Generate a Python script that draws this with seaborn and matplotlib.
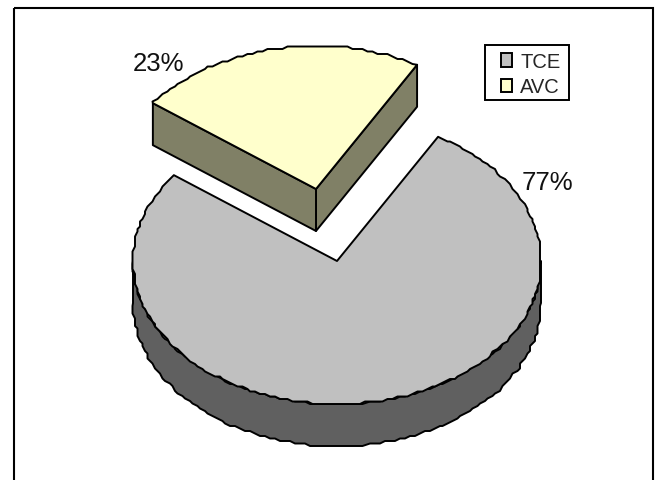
import numpy as np
import seaborn as sns
import matplotlib
matplotlib.use("Agg")
import matplotlib.pyplot as plt
from matplotlib.patches import Patch, Rectangle, Polygon

# Share of each compound
categories = ["TCE", "AVC"]
shares = [77, 23]

top_colors = ["#C0C0C0", "#FFFFCC"]
side_colors = ["#606060", "#808066"]

sns.set_theme(style="white")
plt.rcParams["font.family"] = ["Liberation Sans", "DejaVu Sans"]

fig = plt.figure(figsize=(6.59, 4.81), dpi=100)
ax = fig.add_axes([0, 0, 1, 1])
ax.set_xlim(0, 659)
ax.set_ylim(481, 0)
ax.axis("off")

RX, RY, DEPTH = 204, 143, 42
START_DEG = 143.1
EDGE = dict(edgecolor="black", linewidth=1.4, joinstyle="round")


def stepped(values, step=2.5):
    """Snap rim points to a coarse grid, giving the outline its stepped look."""
    return np.round(np.asarray(values) / step) * step


def rim(cx, cy, a0, a1):
    angles = np.radians(np.arange(a0, a1, 1.5).tolist() + [a1])
    x, y = cx + RX * np.cos(angles), cy - RY * np.sin(angles)
    x[1:-1], y[1:-1] = stepped(x[1:-1]), stepped(y[1:-1])
    return np.column_stack([x, y])


sweeps = [s / sum(shares) * 360 for s in shares]
a_tce0, a_tce1 = START_DEG, START_DEG + sweeps[0]
a_avc0, a_avc1 = a_tce1 - 360, a_tce1 - 360 + sweeps[1]

# Main slice: lower wall, then the top face
cx, cy = 337, 262
wall = rim(cx, cy, 180, 360)
ax.add_patch(Polygon(np.vstack([wall, (wall + [0, DEPTH])[::-1]]),
                     facecolor=side_colors[0], zorder=1, **EDGE))
ax.add_patch(Polygon(np.vstack([[[cx, cy]], rim(cx, cy, a_tce0, a_tce1)]),
                     facecolor=top_colors[0], zorder=2, **EDGE))

# Exploded slice: two cut walls, then the top face
ex, ey = 316, 190
edge_pts = rim(ex, ey, a_avc0, a_avc1)
for end in (edge_pts[0], edge_pts[-1]):
    quad = [[ex, ey], end, end + [0, DEPTH], [ex, ey + DEPTH]]
    ax.add_patch(Polygon(quad, facecolor=side_colors[1], zorder=3, **EDGE))
ax.add_patch(Polygon(np.vstack([[[ex, ey]], edge_pts]),
                     facecolor=top_colors[1], zorder=4, **EDGE))

# Percentage labels
ax.text(547, 183, f"{shares[0]}%", fontsize=18.5, color="#111111",
        ha="center", va="center", zorder=5)
ax.text(159, 64, f"{shares[1]}%", fontsize=18.5, color="#111111",
        ha="center", va="center", zorder=5)

# Outer frame, open at the bottom of the canvas
ax.add_patch(Rectangle((14, 8.5), 639, 490, fill=False, edgecolor="black",
                       linewidth=1.5, zorder=0, clip_on=True))

# Legend box and entries
ax.add_patch(Rectangle((485, 46), 84, 55, facecolor="white", edgecolor="black",
                       linewidth=1.4, zorder=5))
handles = [Patch(facecolor=c, edgecolor="black", linewidth=1.4) for c in top_colors]
leg = ax.legend(handles, categories, loc="upper left",
                bbox_to_anchor=(501 / 659, 1 - 53 / 481), bbox_transform=fig.transFigure,
                fontsize=14.5, frameon=False,
                borderpad=0, labelspacing=0.32, handlelength=0.55, handleheight=0.65,
                handletextpad=0.4, borderaxespad=0)
leg.set_zorder(6)

fig.savefig("out.png", dpi=100, facecolor="white")
